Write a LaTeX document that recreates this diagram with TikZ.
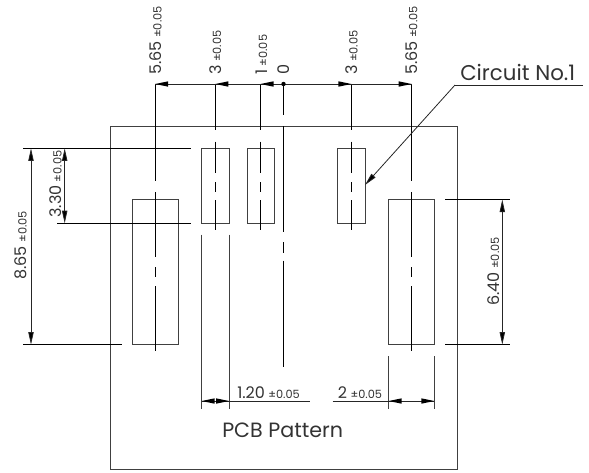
\documentclass[tikz,border=0pt]{standalone}
\usepackage{fontspec}
\setmainfont{Poppins}
\usetikzlibrary{arrows.meta}
\tikzset{
  x=0.75pt,y=-0.75pt,
  outline/.style={line width=0.75pt,draw=black!75},
  thin line/.style={line width=0.6pt,draw=black},
  dimline/.style={line width=0.6pt,draw=black!85},
  tip/.style={-{Triangle[length=9.5pt,width=4pt,fill=black]}},
  both tips/.style={{Triangle[length=9.5pt,width=4pt,fill=black]}-{Triangle[length=9.5pt,width=4pt,fill=black]}},
  dimtext/.style={inner sep=0pt,font=\fontsize{12pt}{14pt}\selectfont,text=black!80},
  vdim/.style={dimtext,rotate=90,anchor=base west},
  hdim/.style={dimtext,anchor=base west},
  big text/.style={inner sep=0pt,anchor=base west,text=black!80}
}
\newcommand{\tol}{{\fontsize{8.5pt}{10pt}\selectfont\hspace{2.5pt}±0.05}}
\begin{document}
\begin{tikzpicture}
\useasboundingbox (0,0) rectangle (589,472);
% board
\draw[outline] (110,126) rectangle (457,469.5);
% pads
\draw[outline] (132.7,199.5) rectangle (178.3,344.7);
\draw[outline] (201.7,148.3) rectangle (229,223.3);
\draw[outline] (247,148.3) rectangle (274.7,223.3);
\draw[outline] (337.7,148.3) rectangle (365.3,223.3);
\draw[outline] (388.7,199.5) rectangle (434.3,344.7);
% centre lines
\foreach \cx in {155.2,411.6}{
  \draw[thin line] (\cx,84) -- (\cx,181) (\cx,192) -- (\cx,257) (\cx,267) -- (\cx,277) (\cx,286) -- (\cx,351);
}
\foreach \cx in {215.3,260.5,351.4}{
  \draw[thin line] (\cx,84) -- (\cx,130) (\cx,141.5) -- (\cx,173) (\cx,182) -- (\cx,192) (\cx,200) -- (\cx,230);
}
\draw[thin line] (283.5,84) -- (283.5,115) (283.5,126) -- (283.5,232) (283.5,242) -- (283.5,253) (283.5,260.5) -- (283.5,367);
% top dimension line
\draw[dimline] (155.2,84) -- (411.6,84);
\foreach \tx in {155.2,215.3,260.5}{
  \fill (\tx,84) -- ++(13,-2.7) -- ++(0,5.4) -- cycle;
}
\foreach \tx in {351.4,411.6}{
  \fill (\tx,84) -- ++(-13,-2.7) -- ++(0,5.4) -- cycle;
}
\fill (283.5,84) circle (2.2);
% left dimensions
\draw[thin line] (23,148.3) -- (191,148.3);
\draw[thin line] (57,223.3) -- (191,223.3);
\draw[thin line] (23,344.7) -- (122,344.7);
\draw[dimline,both tips] (31,148.3) -- (31,344.7);
\draw[dimline,both tips] (64.7,148.3) -- (64.7,223.3);
% right dimension
\draw[thin line] (445.3,199.5) -- (510,199.5);
\draw[thin line] (445.3,344.7) -- (510,344.7);
\draw[dimline,both tips] (502.3,199.5) -- (502.3,344.7);
% bottom dimensions
\foreach \bx in {201.7,229}{
  \draw[outline] (\bx,234.5) -- (\bx,409);
}
\foreach \bx in {388.7,434.3}{
  \draw[outline] (\bx,356) -- (\bx,409);
}
\draw[dimline] (201.7,401) -- (310,401);
\draw[dimline] (332.7,401) -- (434.3,401);
\fill (201.7,401) -- ++(13,-2.7) -- ++(0,5.4) -- cycle;
\fill (229,401) -- ++(-13,-2.7) -- ++(0,5.4) -- cycle;
\fill (388.7,401) -- ++(13,-2.7) -- ++(0,5.4) -- cycle;
\fill (434.3,401) -- ++(-13,-2.7) -- ++(0,5.4) -- cycle;
% leader
\coordinate (leaderEnd) at (583,85);
\coordinate (leaderKnee) at (455,85);
\coordinate (leaderTip) at (365,185);
\draw[dimline] (leaderEnd) -- (leaderKnee);
\draw[dimline,tip] (leaderKnee) -- (leaderTip);
% texts
\node[vdim] (d565l) at (161.5,75) {5.65\tol};
\node[vdim] (d3l) at (221,75) {3\tol};
\node[vdim] (d1) at (267,75) {1\tol};
\node[vdim] (d0) at (289,75) {0};
\node[vdim] (d3r) at (357.5,75) {3\tol};
\node[vdim] (d565r) at (417.3,75) {5.65\tol};
\node[vdim] (d330) at (61.7,218) {3.30\tol};
\node[vdim] (d865) at (26.7,280) {8.65\tol};
\node[vdim] (d640) at (499,306) {6.40\tol};
\node[hdim] (d120) at (237,398) {1.20\tol};
\node[hdim] (d2) at (337.7,398) {2\tol};
\node[big text,font=\fontsize{16pt}{18pt}\selectfont] (circ) at (460,80.5) {Circuit No.1};
\node[big text,font=\fontsize{15.5pt}{18pt}\selectfont] (pcb) at (222,437) {PCB Pattern};
\end{tikzpicture}
\end{document}
